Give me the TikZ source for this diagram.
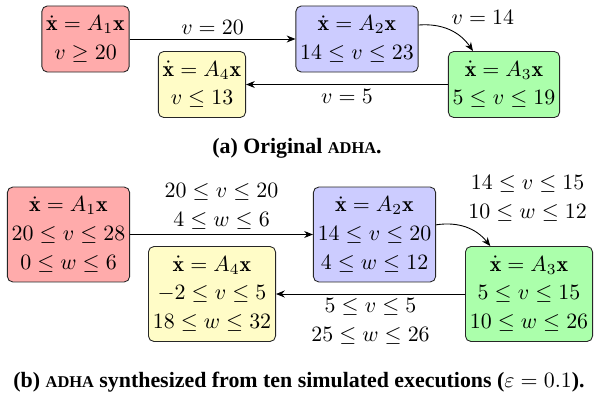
\documentclass[tikz,border=0pt]{standalone}
\usepackage{amsmath}
\usepackage{amssymb}
\usepackage{fontspec}
\newfontfamily\capfont{Liberation Serif}
\usepackage{tikz}
\usetikzlibrary{arrows.meta, positioning}

\newcommand{\xdot}{\dot{\mathbf{x}}}
\newcommand{\adha}{{\fontsize{7.5}{9}\selectfont ADHA}}

\begin{document}
\begin{tikzpicture}[
    x=0.457pt, y=-0.457pt,
    mode/.style={rectangle, draw=black!85, rounded corners=2.5pt, align=center, inner sep=2pt, font=\fontsize{10}{13.2}\selectfont},
    modea/.style={mode, minimum height=30.2pt},
    modeb/.style={mode, minimum height=43.4pt},
    guard/.style={align=center, inner sep=2pt, font=\fontsize{10}{13.2}\selectfont},
    caption/.style={font=\capfont\bfseries\fontsize{10}{12}\selectfont},
    arrow/.style={-{Stealth[length=4pt, width=3.2pt]}}
]
\useasboundingbox (0,0) rectangle (595,406);

% (a) original
\node[modea, fill=red!33] (a1) at (85.5,39) {$\xdot = A_1\mathbf{x}$ \\ $v \geq 20$};
\node[modea, fill=blue!20] (a2) at (357,39) {$\xdot = A_2\mathbf{x}$ \\ $14 \leq v \leq 23$};
\node[modea, fill=green!33] (a3) at (504,84.5) {$\xdot = A_3\mathbf{x}$ \\ $5 \leq v \leq 19$};
\node[modea, fill=yellow!22] (a4) at (202,84.5) {$\xdot = A_4\mathbf{x}$ \\ $v \leq 13$};

\draw[arrow] (a1) -- node[guard, above] {$v = 20$} (a2);
\draw[arrow] (a2) to[bend left] node[guard, above right, pos=0.45] {$v = 14$} (a3);
\draw[arrow] (a3) -- node[guard, below] {$v = 5$} (a4);

\node[caption] (capa) at (297,148) {(a) Original \adha.};

% (b) synthesized
\node[modeb, fill=red!33] (b1) at (68.5,234.5) {$\xdot = A_1\mathbf{x}$ \\ $20 \leq v \leq 28$ \\ $0 \leq w \leq 6$};
\node[modeb, fill=blue!20] (b2) at (374.5,234.5) {$\xdot = A_2\mathbf{x}$ \\ $14 \leq v \leq 20$ \\ $4 \leq w \leq 12$};
\node[modeb, fill=green!33] (b3) at (529,294) {$\xdot = A_3\mathbf{x}$ \\ $5 \leq v \leq 15$ \\ $10 \leq w \leq 26$};
\node[modeb, fill=yellow!22] (b4) at (212,294) {$\xdot = A_4\mathbf{x}$ \\ $-2 \leq v \leq 5$ \\ $18 \leq w \leq 32$};

\draw[arrow] (b1) -- node[guard, above] {$20 \leq v \leq 20$ \\ $4 \leq w \leq 6$} (b2);
\draw[arrow] (b2) to[bend left] node[guard, above right, pos=0.45] {$14 \leq v \leq 15$ \\ $10 \leq w \leq 12$} (b3);
\draw[arrow] (b3) -- node[guard, below] {$5 \leq v \leq 5$ \\ $25 \leq w \leq 26$} (b4);

\node[caption] (capb) at (299,382) {(b) \adha{} synthesized from ten simulated executions (\textmd{$\varepsilon = 0.1$}).};

\end{tikzpicture}
\end{document}
